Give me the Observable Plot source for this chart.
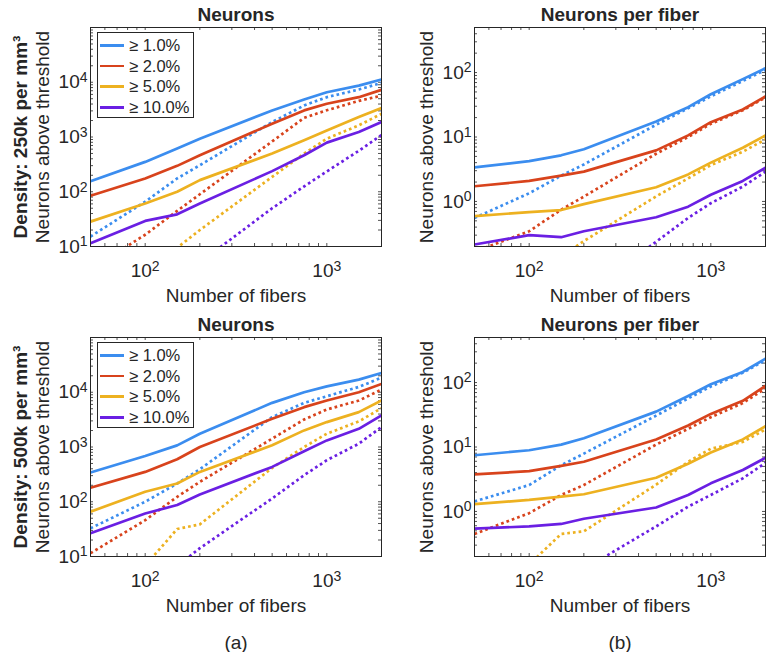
<!DOCTYPE html>
<html>
<head>
<meta charset="utf-8">
<script src="https://cdn.jsdelivr.net/npm/d3@7"></script>
<script src="https://cdn.jsdelivr.net/npm/@observablehq/plot@0.6"></script>
<style>
  body { margin: 0; background: #fff; }
  #root { position: relative; width: 771px; height: 652px; font-family: "Liberation Sans", Arial, sans-serif; color: #262626; overflow: hidden; }
  .panel { position: absolute; }
  .legend { position: absolute; border: 1px solid #262626; background: #fff; box-sizing: border-box; padding-top: 2px; }
  .legend .row { display: flex; align-items: center; height: 20.7px; }
  .legend .swatch { width: 24px; height: 2.7px; margin-left: 2px; }
  .legend .lab { margin-left: 5px; font-size: 16.5px; line-height: 1; white-space: nowrap; }
</style>
</head>
<body>
<div id="root"></div>
<script>
// ---------- data ----------
const fibers = [50, 100, 150, 200, 500, 750, 1000, 1500, 2000];
const thresholds = ["≥ 1.0%", "≥ 2.0%", "≥ 5.0%", "≥ 10.0%"];
const colors = ["#3b8def", "#d8431c", "#edb120", "#6a1fe3"];

// Density 250k — Neurons (solid / dotted)
const n250s1  = [156, 351, 614, 933, 3060, 4840, 6580, 8690, 11200];
const n250d1  = [15.2, 65.8, 175, 305, 1875, 3770, 5340, 7360, 9730];
const n250s2  = [84.6, 175, 297, 464, 1747, 3060, 4040, 5340, 7260];
const n250d2  = [3.8, 16.4, 44.7, 90, 830, 2240, 3080, 4560, 5690];
const n250s5  = [28.5, 61, 100, 163, 498, 869, 1320, 2310, 3370];
const n250d5  = [0.55, 3.3, 9.5, 20, 187, 498, 933, 1630, 2650];
const n250s10 = [11.5, 29.3, 38.7, 61, 238, 464, 789, 1230, 1875];
const n250d10 = [0.09, 0.68, 2.2, 5.1, 50, 125, 235, 560, 1090];

// Density 250k — Neurons per fiber
const p250s1  = [3.37, 4.22, 5.2, 6.46, 17.4, 29, 46, 79, 117];
const p250d1  = [0.555, 1.34, 2.51, 3.75, 15.5, 27.9, 42.6, 74, 110];
const p250s2  = [1.72, 2.08, 2.51, 2.9, 6.2, 10.6, 17, 26.7, 42.7];
const p250d2  = [0.166, 0.345, 0.745, 1.19, 5.5, 10, 16, 26, 41];
const p250s5  = [0.59, 0.685, 0.736, 0.91, 1.66, 2.63, 4.0, 6.8, 10.6];
const p250d5  = [0.021, 0.072, 0.139, 0.243, 1.2, 2.28, 3.66, 5.9, 9.2];
const p250s10 = [0.215, 0.30, 0.279, 0.345, 0.568, 0.83, 1.27, 2.08, 3.33];
const p250d10 = [0.002, 0.008, 0.019, 0.035, 0.237, 0.555, 0.94, 1.7, 2.9];

// Density 500k — Neurons
const n500s1  = [341, 686, 1072, 1747, 6400, 10000, 12800, 17000, 22500];
const n500d1  = [32.7, 100, 215, 393, 3510, 6400, 8460, 12500, 18500];
const n500s2  = [180, 351, 597, 1000, 3270, 5340, 7050, 10000, 14200];
const n500d2  = [11.5, 46, 123, 231, 1420, 3180, 4840, 7050, 11200];
const n500s5  = [65.8, 152, 215, 351, 1072, 2010, 2850, 4330, 7050];
const n500d5  = [0.5, 6.8, 31.8, 38.7, 415, 1000, 1750, 2930, 5120];
const n500s10 = [26.5, 61, 87, 136, 433, 834, 1320, 2150, 3770];
const n500d10 = [0.39, 2.3, 6.7, 14.2, 115, 305, 573, 1150, 2310];

// Density 500k — Neurons per fiber
const p500s1  = [7.45, 8.9, 10.9, 13.7, 35.4, 62, 94, 146, 234];
const p500d1  = [1.43, 2.57, 5.2, 7.9, 30.7, 56.7, 86.7, 142, 223];
const p500s2  = [3.75, 4.22, 5.1, 5.9, 13.1, 21.5, 32.6, 52, 89];
const p500d2  = [0.448, 0.94, 1.8, 2.57, 10.9, 19.1, 29, 48, 81];
const p500s5  = [1.3, 1.51, 1.7, 1.85, 3.33, 5.5, 8.2, 13.1, 21];
const p500d5  = [0.024, 0.15, 0.448, 0.492, 2.6, 5.9, 9.4, 12, 18.7];
const p500s10 = [0.54, 0.587, 0.64, 0.77, 1.15, 1.8, 2.73, 4.4, 6.8];
const p500d10 = [0.013, 0.04, 0.08, 0.127, 0.587, 1.19, 1.8, 3.26, 5.7];

// ticks
const xTickLabels = [100, 1000];
const xDomain = [50, 2000];
const yNeuronsDomain = [10, 100000];
const yNeuronsLabels = [10, 100, 1000, 10000];
const yPerFiberDomain = [0.2, 500];
const yPerFiberLabels = [1, 10, 100];

// ---------- helpers ----------
function logTicks([lo, hi]) {
  const out = [];
  for (let e = Math.floor(Math.log10(lo)) ; e <= Math.ceil(Math.log10(hi)); e++) {
    for (let m = 1; m <= 9; m++) {
      const v = +(m * Math.pow(10, e)).toPrecision(6);
      if (v >= lo * 0.9999 && v <= hi * 1.0001) out.push(v);
    }
  }
  return out;
}
const supFmt = d => "10^" + Math.round(Math.log10(d));

function rows(solid, dotted) {
  const r = [];
  solid.forEach((vals, i) => vals.forEach((v, j) => r.push({x: fibers[j], y: v, k: i, style: "solid"})));
  dotted.forEach((vals, i) => vals.forEach((v, j) => r.push({x: fibers[j], y: v, k: i, style: "dotted"})));
  return r;
}

const W = 291, H = 219, TL = 3;

function makePanel({solid, dotted, yDomain, yLabels, title, density, caption, left, top, height, marginLeft}) {
  const data = rows(solid, dotted);
  const xt = logTicks(xDomain);
  const yt = logTicks(yDomain);
  const marks = [];
  // tick marks inside the box on all four sides
  marks.push(Plot.ruleY(yt, {insetRight: W - TL, stroke: "#262626", strokeWidth: 0.8}));
  marks.push(Plot.ruleY(yt, {insetLeft: W - TL, stroke: "#262626", strokeWidth: 0.8}));
  marks.push(Plot.ruleX(xt, {insetTop: H - TL, stroke: "#262626", strokeWidth: 0.8}));
  marks.push(Plot.ruleX(xt, {insetBottom: H - TL, stroke: "#262626", strokeWidth: 0.8}));
  // series
  for (let k = 0; k < 4; k++) {
    marks.push(Plot.line(data.filter(d => d.k === k && d.style === "solid"), {
      x: "x", y: "y", stroke: colors[k], strokeWidth: 2.7, clip: true
    }));
    marks.push(Plot.line(data.filter(d => d.k === k && d.style === "dotted"), {
      x: "x", y: "y", stroke: colors[k], strokeWidth: 2.7, strokeDasharray: "2.7,3",
      strokeLinecap: "butt", clip: true
    }));
  }
  marks.push(Plot.frame({stroke: "#262626", strokeWidth: 1}));
  marks.push(Plot.axisX({ticks: xTickLabels, tickSize: 0, tickPadding: 17, tickFormat: supFmt, label: null}));
  marks.push(Plot.axisY({ticks: yLabels, tickSize: 0, tickPadding: 3, tickFormat: supFmt, label: null}));
  marks.push(Plot.text([title], {frameAnchor: "top", dy: -13, lineAnchor: "middle", textAnchor: "middle", fontWeight: "bold", fontSize: 19}));
  marks.push(Plot.text(["Number of fibers"], {frameAnchor: "bottom", dy: 49, lineAnchor: "middle", textAnchor: "middle", fontSize: 19}));
  marks.push(Plot.text(["Neurons above threshold"], {frameAnchor: "left", dx: -48, rotate: -90, lineAnchor: "middle", textAnchor: "middle", fontSize: 19}));
  if (density) marks.push(Plot.text([density], {frameAnchor: "left", dx: -70, rotate: -90, lineAnchor: "middle", textAnchor: "middle", fontWeight: "bold", fontSize: 19}));
  if (caption) marks.push(Plot.text([caption], {frameAnchor: "bottom", dy: 86, lineAnchor: "middle", textAnchor: "middle", fontSize: 19}));

  const svg = Plot.plot({
    width: 385, height,
    marginLeft, marginRight: 385 - marginLeft - W, marginTop: 27, marginBottom: height - 27 - H,
    x: {type: "log", domain: xDomain},
    y: {type: "log", domain: yDomain},
    style: {fontFamily: '"Liberation Sans", Arial, sans-serif', fontSize: "19px", color: "#262626", background: "transparent", overflow: "visible"},
    marks
  });
  // superscript exponents on tick labels
  svg.querySelectorAll('g[aria-label$="tick label"] text').forEach(t => {
    const s = t.textContent;
    if (!s.includes("^")) return;
    const [b, e] = s.split("^");
    t.textContent = "";
    const ns = "http://www.w3.org/2000/svg";
    const t1 = document.createElementNS(ns, "tspan"); t1.textContent = b;
    const t2 = document.createElementNS(ns, "tspan"); t2.textContent = e;
    t2.setAttribute("dy", "-0.45em"); t2.setAttribute("font-size", "14px");
    t.appendChild(t1); t.appendChild(t2);
  });
  const div = document.createElement("div");
  div.className = "panel";
  div.style.left = left + "px"; div.style.top = top + "px";
  div.appendChild(svg);
  return div;
}

function makeLegend(left, top) {
  const lg = document.createElement("div");
  lg.className = "legend";
  lg.style.left = left + "px"; lg.style.top = top + "px";
  lg.style.width = "97px"; lg.style.height = "86px";
  thresholds.forEach((t, i) => {
    const r = document.createElement("div"); r.className = "row";
    const sw = document.createElement("span"); sw.className = "swatch"; sw.style.background = colors[i];
    const lb = document.createElement("span"); lb.className = "lab"; lb.textContent = t;
    r.appendChild(sw); r.appendChild(lb); lg.appendChild(r);
  });
  return lg;
}

const root = document.getElementById("root");
root.appendChild(makePanel({
  solid: [n250s1, n250s2, n250s5, n250s10], dotted: [n250d1, n250d2, n250d5, n250d10],
  yDomain: yNeuronsDomain, yLabels: yNeuronsLabels, title: "Neurons",
  density: "Density: 250k per mm³", left: 0, top: 0, height: 310, marginLeft: 90
}));
root.appendChild(makePanel({
  solid: [p250s1, p250s2, p250s5, p250s10], dotted: [p250d1, p250d2, p250d5, p250d10],
  yDomain: yPerFiberDomain, yLabels: yPerFiberLabels, title: "Neurons per fiber",
  left: 385, top: 0, height: 310, marginLeft: 89
}));
root.appendChild(makePanel({
  solid: [n500s1, n500s2, n500s5, n500s10], dotted: [n500d1, n500d2, n500d5, n500d10],
  yDomain: yNeuronsDomain, yLabels: yNeuronsLabels, title: "Neurons",
  density: "Density: 500k per mm³", caption: "(a)", left: 0, top: 310, height: 342, marginLeft: 90
}));
root.appendChild(makePanel({
  solid: [p500s1, p500s2, p500s5, p500s10], dotted: [p500d1, p500d2, p500d5, p500d10],
  yDomain: yPerFiberDomain, yLabels: yPerFiberLabels, title: "Neurons per fiber",
  caption: "(b)", left: 385, top: 310, height: 342, marginLeft: 89
}));
root.appendChild(makeLegend(97, 32));
root.appendChild(makeLegend(97, 342));
</script>
</body>
</html>
